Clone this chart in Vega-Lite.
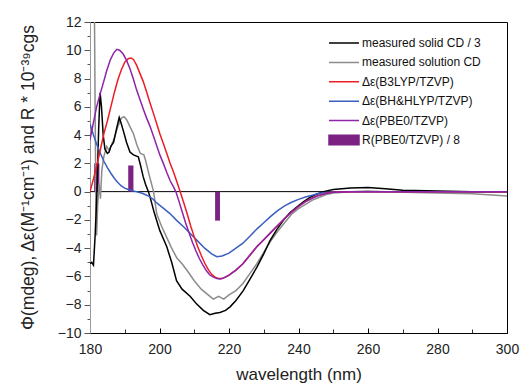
{
  "$schema": "https://vega.github.io/schema/vega-lite/v6.json",
  "width": 417,
  "height": 311,
  "autosize": "none",
  "padding": {"left": 90, "top": 22, "right": 14, "bottom": 55},
  "config": {
    "view": {"stroke": "#000000", "strokeWidth": 1},
    "font": "Liberation Sans",
    "axis": {"labelFont": "Liberation Sans", "titleFont": "Liberation Sans", "grid": false, "labelColor": "#222", "titleColor": "#222", "titleFontWeight": "normal", "labelFlush": false}
  },
  "datasets": {
    "curves": [
      {"series": "measured solution CD", "wl": 181.3, "v": 12},
      {"series": "measured solution CD", "wl": 181.5, "v": 5},
      {"series": "measured solution CD", "wl": 181.7, "v": -1},
      {"series": "measured solution CD", "wl": 181.9, "v": -3.1},
      {"series": "measured solution CD", "wl": 182.2, "v": -1},
      {"series": "measured solution CD", "wl": 182.6, "v": 0.6},
      {"series": "measured solution CD", "wl": 183.0, "v": -0.5},
      {"series": "measured solution CD", "wl": 183.4, "v": 1.5},
      {"series": "measured solution CD", "wl": 184.0, "v": 2.5},
      {"series": "measured solution CD", "wl": 184.8, "v": 3.2},
      {"series": "measured solution CD", "wl": 185.5, "v": 2.9},
      {"series": "measured solution CD", "wl": 186.2, "v": 3.3},
      {"series": "measured solution CD", "wl": 187.0, "v": 3.8},
      {"series": "measured solution CD", "wl": 188.0, "v": 4.6},
      {"series": "measured solution CD", "wl": 189.0, "v": 5.2},
      {"series": "measured solution CD", "wl": 189.8, "v": 5.3},
      {"series": "measured solution CD", "wl": 190.5, "v": 5.1},
      {"series": "measured solution CD", "wl": 191.5, "v": 4.6},
      {"series": "measured solution CD", "wl": 192.5, "v": 4.1},
      {"series": "measured solution CD", "wl": 193.5, "v": 3.3},
      {"series": "measured solution CD", "wl": 194.5, "v": 2.7},
      {"series": "measured solution CD", "wl": 195.5, "v": 2.6},
      {"series": "measured solution CD", "wl": 196.0, "v": 2.2},
      {"series": "measured solution CD", "wl": 197.0, "v": 1.2},
      {"series": "measured solution CD", "wl": 198.3, "v": 0},
      {"series": "measured solution CD", "wl": 199.2, "v": -1.57},
      {"series": "measured solution CD", "wl": 200.5, "v": -2.4},
      {"series": "measured solution CD", "wl": 202.0, "v": -3.2},
      {"series": "measured solution CD", "wl": 203.5, "v": -4.0},
      {"series": "measured solution CD", "wl": 205.0, "v": -4.7},
      {"series": "measured solution CD", "wl": 206.5, "v": -5.1},
      {"series": "measured solution CD", "wl": 208.0, "v": -5.6},
      {"series": "measured solution CD", "wl": 210.0, "v": -6.3},
      {"series": "measured solution CD", "wl": 212.0, "v": -6.9},
      {"series": "measured solution CD", "wl": 214.0, "v": -7.3},
      {"series": "measured solution CD", "wl": 215.5, "v": -7.6},
      {"series": "measured solution CD", "wl": 217.0, "v": -7.4},
      {"series": "measured solution CD", "wl": 218.5, "v": -7.6},
      {"series": "measured solution CD", "wl": 220.0, "v": -7.3},
      {"series": "measured solution CD", "wl": 222.0, "v": -7.0},
      {"series": "measured solution CD", "wl": 224.0, "v": -6.5},
      {"series": "measured solution CD", "wl": 226.0, "v": -5.8},
      {"series": "measured solution CD", "wl": 228.0, "v": -5.1},
      {"series": "measured solution CD", "wl": 230.0, "v": -4.3},
      {"series": "measured solution CD", "wl": 232.0, "v": -3.5},
      {"series": "measured solution CD", "wl": 234.0, "v": -2.8},
      {"series": "measured solution CD", "wl": 236.0, "v": -2.2},
      {"series": "measured solution CD", "wl": 238.0, "v": -1.6},
      {"series": "measured solution CD", "wl": 240.0, "v": -1.2},
      {"series": "measured solution CD", "wl": 242.0, "v": -0.9},
      {"series": "measured solution CD", "wl": 244.0, "v": -0.6},
      {"series": "measured solution CD", "wl": 246.0, "v": -0.4},
      {"series": "measured solution CD", "wl": 248.0, "v": -0.2},
      {"series": "measured solution CD", "wl": 250.0, "v": -0.1},
      {"series": "measured solution CD", "wl": 255.0, "v": 0},
      {"series": "measured solution CD", "wl": 260.0, "v": 0.05},
      {"series": "measured solution CD", "wl": 265.0, "v": 0},
      {"series": "measured solution CD", "wl": 270.0, "v": -0.05},
      {"series": "measured solution CD", "wl": 280.0, "v": -0.1},
      {"series": "measured solution CD", "wl": 290.0, "v": -0.15},
      {"series": "measured solution CD", "wl": 300.0, "v": -0.3},

      {"series": "measured solid CD / 3", "wl": 180.0, "v": -5.1},
      {"series": "measured solid CD / 3", "wl": 180.5, "v": -5.0},
      {"series": "measured solid CD / 3", "wl": 181.0, "v": -5.2},
      {"series": "measured solid CD / 3", "wl": 181.5, "v": -3.0},
      {"series": "measured solid CD / 3", "wl": 182.0, "v": 0},
      {"series": "measured solid CD / 3", "wl": 182.5, "v": 4.5},
      {"series": "measured solid CD / 3", "wl": 182.9, "v": 7.0},
      {"series": "measured solid CD / 3", "wl": 183.3, "v": 6.0},
      {"series": "measured solid CD / 3", "wl": 183.8, "v": 4.0},
      {"series": "measured solid CD / 3", "wl": 184.3, "v": 3.0},
      {"series": "measured solid CD / 3", "wl": 185.0, "v": 2.7},
      {"series": "measured solid CD / 3", "wl": 185.5, "v": 2.8},
      {"series": "measured solid CD / 3", "wl": 186.0, "v": 3.2},
      {"series": "measured solid CD / 3", "wl": 186.8, "v": 3.5},
      {"series": "measured solid CD / 3", "wl": 187.5, "v": 4.3},
      {"series": "measured solid CD / 3", "wl": 188.4, "v": 5.25},
      {"series": "measured solid CD / 3", "wl": 189.0, "v": 4.8},
      {"series": "measured solid CD / 3", "wl": 189.6, "v": 4.3},
      {"series": "measured solid CD / 3", "wl": 190.5, "v": 3.5},
      {"series": "measured solid CD / 3", "wl": 191.5, "v": 2.8},
      {"series": "measured solid CD / 3", "wl": 192.5, "v": 2.6},
      {"series": "measured solid CD / 3", "wl": 193.9, "v": 2.47},
      {"series": "measured solid CD / 3", "wl": 194.5, "v": 1.9},
      {"series": "measured solid CD / 3", "wl": 195.3, "v": 1.06},
      {"series": "measured solid CD / 3", "wl": 196.0, "v": 0.5},
      {"series": "measured solid CD / 3", "wl": 196.8, "v": 0},
      {"series": "measured solid CD / 3", "wl": 197.3, "v": -0.4},
      {"series": "measured solid CD / 3", "wl": 198.5, "v": -1.5},
      {"series": "measured solid CD / 3", "wl": 200.1, "v": -2.76},
      {"series": "measured solid CD / 3", "wl": 202.1, "v": -3.9},
      {"series": "measured solid CD / 3", "wl": 203.5, "v": -5.0},
      {"series": "measured solid CD / 3", "wl": 204.9, "v": -6.3},
      {"series": "measured solid CD / 3", "wl": 206.5, "v": -6.9},
      {"series": "measured solid CD / 3", "wl": 208.8, "v": -7.4},
      {"series": "measured solid CD / 3", "wl": 210.5, "v": -7.9},
      {"series": "measured solid CD / 3", "wl": 212.6, "v": -8.4},
      {"series": "measured solid CD / 3", "wl": 214.5, "v": -8.7},
      {"series": "measured solid CD / 3", "wl": 216.0, "v": -8.6},
      {"series": "measured solid CD / 3", "wl": 217.4, "v": -8.55},
      {"series": "measured solid CD / 3", "wl": 219.0, "v": -8.4},
      {"series": "measured solid CD / 3", "wl": 220.3, "v": -8.15},
      {"series": "measured solid CD / 3", "wl": 222.0, "v": -7.7},
      {"series": "measured solid CD / 3", "wl": 224.1, "v": -7.0},
      {"series": "measured solid CD / 3", "wl": 226.0, "v": -6.2},
      {"series": "measured solid CD / 3", "wl": 228.0, "v": -5.35},
      {"series": "measured solid CD / 3", "wl": 230.0, "v": -4.4},
      {"series": "measured solid CD / 3", "wl": 231.8, "v": -3.46},
      {"series": "measured solid CD / 3", "wl": 233.7, "v": -2.7},
      {"series": "measured solid CD / 3", "wl": 235.6, "v": -2.05},
      {"series": "measured solid CD / 3", "wl": 237.5, "v": -1.5},
      {"series": "measured solid CD / 3", "wl": 239.5, "v": -1.1},
      {"series": "measured solid CD / 3", "wl": 241.5, "v": -0.7},
      {"series": "measured solid CD / 3", "wl": 243.3, "v": -0.4},
      {"series": "measured solid CD / 3", "wl": 245.0, "v": -0.2},
      {"series": "measured solid CD / 3", "wl": 247.2, "v": 0},
      {"series": "measured solid CD / 3", "wl": 250.0, "v": 0.15},
      {"series": "measured solid CD / 3", "wl": 255.0, "v": 0.25},
      {"series": "measured solid CD / 3", "wl": 260.0, "v": 0.3},
      {"series": "measured solid CD / 3", "wl": 265.0, "v": 0.2},
      {"series": "measured solid CD / 3", "wl": 270.0, "v": 0.1},
      {"series": "measured solid CD / 3", "wl": 280.0, "v": 0.05},
      {"series": "measured solid CD / 3", "wl": 290.0, "v": 0},
      {"series": "measured solid CD / 3", "wl": 300.0, "v": 0},

      {"series": "Δε(BH&HLYP/TZVP)", "wl": 180, "v": 4.8},
      {"series": "Δε(BH&HLYP/TZVP)", "wl": 181, "v": 4.0},
      {"series": "Δε(BH&HLYP/TZVP)", "wl": 182, "v": 3.3},
      {"series": "Δε(BH&HLYP/TZVP)", "wl": 183, "v": 2.7},
      {"series": "Δε(BH&HLYP/TZVP)", "wl": 184, "v": 2.15},
      {"series": "Δε(BH&HLYP/TZVP)", "wl": 185, "v": 1.7},
      {"series": "Δε(BH&HLYP/TZVP)", "wl": 186, "v": 1.3},
      {"series": "Δε(BH&HLYP/TZVP)", "wl": 187, "v": 0.95},
      {"series": "Δε(BH&HLYP/TZVP)", "wl": 188, "v": 0.65},
      {"series": "Δε(BH&HLYP/TZVP)", "wl": 189, "v": 0.4},
      {"series": "Δε(BH&HLYP/TZVP)", "wl": 190, "v": 0.25},
      {"series": "Δε(BH&HLYP/TZVP)", "wl": 191, "v": 0.15},
      {"series": "Δε(BH&HLYP/TZVP)", "wl": 192, "v": 0.08},
      {"series": "Δε(BH&HLYP/TZVP)", "wl": 193, "v": 0.02},
      {"series": "Δε(BH&HLYP/TZVP)", "wl": 194, "v": -0.05},
      {"series": "Δε(BH&HLYP/TZVP)", "wl": 195, "v": -0.12},
      {"series": "Δε(BH&HLYP/TZVP)", "wl": 196, "v": -0.22},
      {"series": "Δε(BH&HLYP/TZVP)", "wl": 197, "v": -0.33},
      {"series": "Δε(BH&HLYP/TZVP)", "wl": 198, "v": -0.5},
      {"series": "Δε(BH&HLYP/TZVP)", "wl": 199, "v": -0.75},
      {"series": "Δε(BH&HLYP/TZVP)", "wl": 200, "v": -0.95},
      {"series": "Δε(BH&HLYP/TZVP)", "wl": 201, "v": -1.15},
      {"series": "Δε(BH&HLYP/TZVP)", "wl": 203, "v": -1.55},
      {"series": "Δε(BH&HLYP/TZVP)", "wl": 205, "v": -2.05},
      {"series": "Δε(BH&HLYP/TZVP)", "wl": 207, "v": -2.5},
      {"series": "Δε(BH&HLYP/TZVP)", "wl": 209, "v": -3.0},
      {"series": "Δε(BH&HLYP/TZVP)", "wl": 211, "v": -3.5},
      {"series": "Δε(BH&HLYP/TZVP)", "wl": 213, "v": -4.0},
      {"series": "Δε(BH&HLYP/TZVP)", "wl": 215, "v": -4.4},
      {"series": "Δε(BH&HLYP/TZVP)", "wl": 216.5, "v": -4.6},
      {"series": "Δε(BH&HLYP/TZVP)", "wl": 218, "v": -4.55},
      {"series": "Δε(BH&HLYP/TZVP)", "wl": 220, "v": -4.35},
      {"series": "Δε(BH&HLYP/TZVP)", "wl": 222, "v": -4.0},
      {"series": "Δε(BH&HLYP/TZVP)", "wl": 224, "v": -3.65},
      {"series": "Δε(BH&HLYP/TZVP)", "wl": 226, "v": -3.15},
      {"series": "Δε(BH&HLYP/TZVP)", "wl": 228, "v": -2.65},
      {"series": "Δε(BH&HLYP/TZVP)", "wl": 230, "v": -2.2},
      {"series": "Δε(BH&HLYP/TZVP)", "wl": 232, "v": -1.75},
      {"series": "Δε(BH&HLYP/TZVP)", "wl": 234, "v": -1.35},
      {"series": "Δε(BH&HLYP/TZVP)", "wl": 236, "v": -1.0},
      {"series": "Δε(BH&HLYP/TZVP)", "wl": 238, "v": -0.75},
      {"series": "Δε(BH&HLYP/TZVP)", "wl": 240, "v": -0.55},
      {"series": "Δε(BH&HLYP/TZVP)", "wl": 242, "v": -0.38},
      {"series": "Δε(BH&HLYP/TZVP)", "wl": 244, "v": -0.25},
      {"series": "Δε(BH&HLYP/TZVP)", "wl": 246, "v": -0.12},
      {"series": "Δε(BH&HLYP/TZVP)", "wl": 248, "v": -0.06},
      {"series": "Δε(BH&HLYP/TZVP)", "wl": 250, "v": -0.02},
      {"series": "Δε(BH&HLYP/TZVP)", "wl": 255, "v": 0},
      {"series": "Δε(BH&HLYP/TZVP)", "wl": 300, "v": 0},

      {"series": "Δε(B3LYP/TZVP)", "wl": 180, "v": 0},
      {"series": "Δε(B3LYP/TZVP)", "wl": 181, "v": 0.9},
      {"series": "Δε(B3LYP/TZVP)", "wl": 182, "v": 1.9},
      {"series": "Δε(B3LYP/TZVP)", "wl": 183, "v": 3.0},
      {"series": "Δε(B3LYP/TZVP)", "wl": 184, "v": 4.1},
      {"series": "Δε(B3LYP/TZVP)", "wl": 185, "v": 5.0},
      {"series": "Δε(B3LYP/TZVP)", "wl": 186, "v": 6.0},
      {"series": "Δε(B3LYP/TZVP)", "wl": 187, "v": 7.0},
      {"series": "Δε(B3LYP/TZVP)", "wl": 188, "v": 7.9},
      {"series": "Δε(B3LYP/TZVP)", "wl": 189, "v": 8.6},
      {"series": "Δε(B3LYP/TZVP)", "wl": 190, "v": 9.15},
      {"series": "Δε(B3LYP/TZVP)", "wl": 191, "v": 9.4},
      {"series": "Δε(B3LYP/TZVP)", "wl": 191.8, "v": 9.45},
      {"series": "Δε(B3LYP/TZVP)", "wl": 192.5, "v": 9.35},
      {"series": "Δε(B3LYP/TZVP)", "wl": 193.4, "v": 8.95},
      {"series": "Δε(B3LYP/TZVP)", "wl": 194.3, "v": 8.4},
      {"series": "Δε(B3LYP/TZVP)", "wl": 195.3, "v": 7.8},
      {"series": "Δε(B3LYP/TZVP)", "wl": 196.3, "v": 7.05},
      {"series": "Δε(B3LYP/TZVP)", "wl": 197.3, "v": 6.25},
      {"series": "Δε(B3LYP/TZVP)", "wl": 198.3, "v": 5.5},
      {"series": "Δε(B3LYP/TZVP)", "wl": 199.2, "v": 4.8},
      {"series": "Δε(B3LYP/TZVP)", "wl": 200.1, "v": 4.1},
      {"series": "Δε(B3LYP/TZVP)", "wl": 201.1, "v": 3.4},
      {"series": "Δε(B3LYP/TZVP)", "wl": 202.1, "v": 2.7},
      {"series": "Δε(B3LYP/TZVP)", "wl": 203.0, "v": 2.05},
      {"series": "Δε(B3LYP/TZVP)", "wl": 204.0, "v": 1.4},
      {"series": "Δε(B3LYP/TZVP)", "wl": 205.0, "v": 0.7},
      {"series": "Δε(B3LYP/TZVP)", "wl": 206.0, "v": -0.05},
      {"series": "Δε(B3LYP/TZVP)", "wl": 207.0, "v": -0.8},
      {"series": "Δε(B3LYP/TZVP)", "wl": 208.0, "v": -1.6},
      {"series": "Δε(B3LYP/TZVP)", "wl": 209.0, "v": -2.45},
      {"series": "Δε(B3LYP/TZVP)", "wl": 210.0, "v": -3.2},
      {"series": "Δε(B3LYP/TZVP)", "wl": 211.0, "v": -3.9},
      {"series": "Δε(B3LYP/TZVP)", "wl": 212.0, "v": -4.5},
      {"series": "Δε(B3LYP/TZVP)", "wl": 213.0, "v": -5.05},
      {"series": "Δε(B3LYP/TZVP)", "wl": 214.0, "v": -5.5},
      {"series": "Δε(B3LYP/TZVP)", "wl": 215.0, "v": -5.85},
      {"series": "Δε(B3LYP/TZVP)", "wl": 216.0, "v": -6.05},
      {"series": "Δε(B3LYP/TZVP)", "wl": 217.0, "v": -6.15},
      {"series": "Δε(B3LYP/TZVP)", "wl": 218.0, "v": -6.15},
      {"series": "Δε(B3LYP/TZVP)", "wl": 219.0, "v": -6.05},
      {"series": "Δε(B3LYP/TZVP)", "wl": 220.0, "v": -5.9},
      {"series": "Δε(B3LYP/TZVP)", "wl": 222.0, "v": -5.55},
      {"series": "Δε(B3LYP/TZVP)", "wl": 224.0, "v": -5.1},
      {"series": "Δε(B3LYP/TZVP)", "wl": 226.0, "v": -4.5},
      {"series": "Δε(B3LYP/TZVP)", "wl": 228.0, "v": -3.9},
      {"series": "Δε(B3LYP/TZVP)", "wl": 230.0, "v": -3.4},
      {"series": "Δε(B3LYP/TZVP)", "wl": 232.0, "v": -2.9},
      {"series": "Δε(B3LYP/TZVP)", "wl": 234.0, "v": -2.4},
      {"series": "Δε(B3LYP/TZVP)", "wl": 236.0, "v": -1.9},
      {"series": "Δε(B3LYP/TZVP)", "wl": 238.0, "v": -1.45},
      {"series": "Δε(B3LYP/TZVP)", "wl": 240.0, "v": -1.05},
      {"series": "Δε(B3LYP/TZVP)", "wl": 242.0, "v": -0.7},
      {"series": "Δε(B3LYP/TZVP)", "wl": 244.0, "v": -0.45},
      {"series": "Δε(B3LYP/TZVP)", "wl": 246.0, "v": -0.25},
      {"series": "Δε(B3LYP/TZVP)", "wl": 248.0, "v": -0.12},
      {"series": "Δε(B3LYP/TZVP)", "wl": 250.0, "v": -0.05},
      {"series": "Δε(B3LYP/TZVP)", "wl": 255.0, "v": 0},
      {"series": "Δε(B3LYP/TZVP)", "wl": 300.0, "v": 0},

      {"series": "Δε(PBE0/TZVP)", "wl": 180, "v": 3.66},
      {"series": "Δε(PBE0/TZVP)", "wl": 181, "v": 4.9},
      {"series": "Δε(PBE0/TZVP)", "wl": 181.9, "v": 6.0},
      {"series": "Δε(PBE0/TZVP)", "wl": 182.9, "v": 6.9},
      {"series": "Δε(PBE0/TZVP)", "wl": 183.8, "v": 7.66},
      {"series": "Δε(PBE0/TZVP)", "wl": 184.8, "v": 8.55},
      {"series": "Δε(PBE0/TZVP)", "wl": 185.8, "v": 9.3},
      {"series": "Δε(PBE0/TZVP)", "wl": 186.8, "v": 9.8},
      {"series": "Δε(PBE0/TZVP)", "wl": 187.7, "v": 10.07},
      {"series": "Δε(PBE0/TZVP)", "wl": 188.5, "v": 10.0},
      {"series": "Δε(PBE0/TZVP)", "wl": 189.5, "v": 9.75},
      {"series": "Δε(PBE0/TZVP)", "wl": 190.5, "v": 9.3},
      {"series": "Δε(PBE0/TZVP)", "wl": 191.5, "v": 8.7},
      {"series": "Δε(PBE0/TZVP)", "wl": 192.5, "v": 7.95},
      {"series": "Δε(PBE0/TZVP)", "wl": 193.4, "v": 7.2},
      {"series": "Δε(PBE0/TZVP)", "wl": 194.4, "v": 6.5},
      {"series": "Δε(PBE0/TZVP)", "wl": 195.4, "v": 5.8},
      {"series": "Δε(PBE0/TZVP)", "wl": 196.3, "v": 5.2},
      {"series": "Δε(PBE0/TZVP)", "wl": 197.3, "v": 4.6},
      {"series": "Δε(PBE0/TZVP)", "wl": 198.3, "v": 3.9},
      {"series": "Δε(PBE0/TZVP)", "wl": 199.2, "v": 3.25},
      {"series": "Δε(PBE0/TZVP)", "wl": 200.1, "v": 2.6},
      {"series": "Δε(PBE0/TZVP)", "wl": 201.1, "v": 2.0},
      {"series": "Δε(PBE0/TZVP)", "wl": 202.1, "v": 1.35},
      {"series": "Δε(PBE0/TZVP)", "wl": 203.1, "v": 0.75},
      {"series": "Δε(PBE0/TZVP)", "wl": 204.0, "v": 0.35},
      {"series": "Δε(PBE0/TZVP)", "wl": 204.7, "v": 0},
      {"series": "Δε(PBE0/TZVP)", "wl": 205.5, "v": -0.6},
      {"series": "Δε(PBE0/TZVP)", "wl": 206.5, "v": -1.4},
      {"series": "Δε(PBE0/TZVP)", "wl": 207.5, "v": -2.2},
      {"series": "Δε(PBE0/TZVP)", "wl": 208.5, "v": -2.9},
      {"series": "Δε(PBE0/TZVP)", "wl": 209.5, "v": -3.6},
      {"series": "Δε(PBE0/TZVP)", "wl": 210.5, "v": -4.2},
      {"series": "Δε(PBE0/TZVP)", "wl": 211.5, "v": -4.75},
      {"series": "Δε(PBE0/TZVP)", "wl": 212.5, "v": -5.2},
      {"series": "Δε(PBE0/TZVP)", "wl": 213.5, "v": -5.6},
      {"series": "Δε(PBE0/TZVP)", "wl": 214.5, "v": -5.9},
      {"series": "Δε(PBE0/TZVP)", "wl": 215.5, "v": -6.05},
      {"series": "Δε(PBE0/TZVP)", "wl": 216.5, "v": -6.15},
      {"series": "Δε(PBE0/TZVP)", "wl": 217.5, "v": -6.18},
      {"series": "Δε(PBE0/TZVP)", "wl": 218.5, "v": -6.1},
      {"series": "Δε(PBE0/TZVP)", "wl": 220.0, "v": -5.9},
      {"series": "Δε(PBE0/TZVP)", "wl": 222.0, "v": -5.55},
      {"series": "Δε(PBE0/TZVP)", "wl": 224.0, "v": -5.1},
      {"series": "Δε(PBE0/TZVP)", "wl": 226.0, "v": -4.5},
      {"series": "Δε(PBE0/TZVP)", "wl": 228.0, "v": -3.9},
      {"series": "Δε(PBE0/TZVP)", "wl": 230.0, "v": -3.4},
      {"series": "Δε(PBE0/TZVP)", "wl": 232.0, "v": -2.9},
      {"series": "Δε(PBE0/TZVP)", "wl": 234.0, "v": -2.4},
      {"series": "Δε(PBE0/TZVP)", "wl": 236.0, "v": -1.9},
      {"series": "Δε(PBE0/TZVP)", "wl": 238.0, "v": -1.45},
      {"series": "Δε(PBE0/TZVP)", "wl": 240.0, "v": -1.05},
      {"series": "Δε(PBE0/TZVP)", "wl": 242.0, "v": -0.7},
      {"series": "Δε(PBE0/TZVP)", "wl": 244.0, "v": -0.45},
      {"series": "Δε(PBE0/TZVP)", "wl": 246.0, "v": -0.25},
      {"series": "Δε(PBE0/TZVP)", "wl": 248.0, "v": -0.12},
      {"series": "Δε(PBE0/TZVP)", "wl": 250.0, "v": -0.05},
      {"series": "Δε(PBE0/TZVP)", "wl": 255.0, "v": 0},
      {"series": "Δε(PBE0/TZVP)", "wl": 300.0, "v": 0}
    ],
    "bars": [
      {"series": "R(PBE0/TZVP) / 8", "x1": 181.2, "x2": 182.7, "R": 2.0},
      {"series": "R(PBE0/TZVP) / 8", "x1": 191.0, "x2": 192.5, "R": 1.85},
      {"series": "R(PBE0/TZVP) / 8", "x1": 216.0, "x2": 217.4, "R": -2.05}
    ],
    "zero": [{"y": 0}]
  },
  "layer": [
    {
      "data": {"name": "zero"},
      "mark": {"type": "rule", "color": "#000000", "strokeWidth": 1},
      "encoding": {
        "y": {"field": "y", "type": "quantitative", "scale": {"domain": [-10, 12], "nice": false},
          "axis": {"orient": "left", "values": [-9, -7, -5, -3, -1, 1, 3, 5, 7, 9, 11], "labels": false, "domain": false, "tickSize": 3, "tickColor": "#555", "title": null}}
      }
    },
    {
      "data": {"name": "bars"},
      "mark": {"type": "rect"},
      "encoding": {
        "x": {"field": "x1", "type": "quantitative", "scale": {"domain": [180, 300], "nice": false},
          "axis": {"orient": "bottom", "values": [190, 210, 230, 250, 270, 290], "labels": false, "domain": false, "tickSize": -4, "tickColor": "#333", "title": null}},
        "x2": {"field": "x2"},
        "y": {"field": "R", "type": "quantitative", "axis": null},
        "y2": {"datum": 0},
        "color": {"field": "series", "type": "nominal"}
      }
    },
    {
      "data": {"name": "curves"},
      "mark": {"type": "line", "strokeWidth": 1.5, "clip": true, "interpolate": "linear"},
      "encoding": {
        "x": {"field": "wl", "type": "quantitative", "scale": {"domain": [180, 300], "nice": false},
          "axis": {"orient": "bottom", "values": [180, 200, 220, 240, 260, 280, 300], "tickSize": -5, "domainColor": "#000", "tickColor": "#000", "labelFontSize": 14, "labelPadding": 14, "title": "wavelength (nm)", "titleFontSize": 17, "titlePadding": 10}},
        "y": {"field": "v", "type": "quantitative", "scale": {"domain": [-10, 12], "nice": false},
          "axis": {"orient": "left", "values": [-10, -8, -6, -4, -2, 0, 2, 4, 6, 8, 10, 12], "tickSize": 6, "domainColor": "#999", "tickColor": "#555", "labelFontSize": 14, "labelPadding": 3, "title": "Φ(mdeg), Δε(M⁻¹cm⁻¹) and R * 10⁻³⁹cgs", "titleFontSize": 17.5, "titleX": -53, "titleY": 155, "titleBaseline": "bottom", "titleAngle": 270}},
        "color": {"field": "series", "type": "nominal",
          "scale": {
            "domain": ["measured solid CD / 3", "measured solution CD", "Δε(B3LYP/TZVP)", "Δε(BH&HLYP/TZVP)", "Δε(PBE0/TZVP)", "R(PBE0/TZVP) / 8"],
            "range": ["#000000", "#8c8c8c", "#ee1c25", "#3b5fc0", "#8e24a8", "#7b2283"]
          },
          "legend": {
            "title": null,
            "orient": "none",
            "legendX": 238,
            "legendY": 13,
            "symbolType": "stroke",
            "symbolSize": 900,
            "symbolStrokeWidth": 1.5,
            "clipHeight": 16,
            "rowPadding": 3.4,
            "labelFont": "Liberation Sans",
            "labelFontSize": 12,
            "labelColor": "#111",
            "labelOffset": 2,
            "encode": {
              "symbols": {
                "update": {
                  "shape": {"signal": "datum.value === 'R(PBE0/TZVP) / 8' ? 'M-1,-0.32H1V0.32H-1Z' : 'stroke'"},
                  "fill": {"signal": "datum.value === 'R(PBE0/TZVP) / 8' ? '#7b2283' : 'transparent'"},
                  "strokeWidth": {"value": 1.5}
                }
              }
            }
          }
        }
      }
    }
  ],
  "resolve": {"axis": {"x": "independent", "y": "independent"}}
}
